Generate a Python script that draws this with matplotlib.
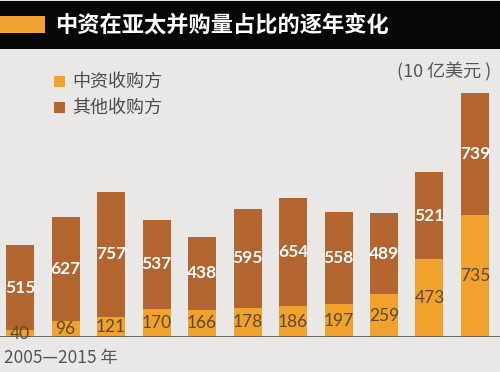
import matplotlib
matplotlib.use("Agg")
import matplotlib.pyplot as plt
from matplotlib.patches import Rectangle

plt.rcParams['font.family'] = ['Noto Sans CJK SC', 'DejaVu Sans']

years = list(range(2005, 2016))
chinese = [40, 96, 121, 170, 166, 178, 186, 197, 259, 473, 735]
others = [515, 627, 757, 537, 438, 595, 654, 558, 489, 521, 739]
title = "中资在亚太并购量占比的逐年变化"
legend_labels = ["中资收购方", "其他收购方"]
unit_label = "(10 亿美元 )"
xlabel = "2005—2015 年"

ORANGE = "#f0a22c"
BROWN = "#b2652e"
BG = "#e9e8e6"

W, H = 500, 372
fig = plt.figure(figsize=(W / 100, H / 100), dpi=100)
fig.patch.set_facecolor(BG)

# title bar
fig.patches.append(Rectangle((0, (H - 49) / H), 1, 48 / H, transform=fig.transFigure,
                             facecolor="#060606", edgecolor="none", zorder=0))
fig.patches.append(Rectangle((0, (H - 33) / H), 45 / W, 17 / H, transform=fig.transFigure,
                             facecolor="#f2a230", edgecolor="none", zorder=1))
fig.text(55 / W, (H - 25) / H, title, color="white", fontsize=16, fontweight="bold",
         va="center", ha="left")

base_px = 337
top_px = 47
ax = fig.add_axes([0, (H - base_px) / H, 1, (base_px - top_px) / H])
ax.set_facecolor("none")
px_per_unit = 0.1655
ax.set_ylim(0, (base_px - top_px) / px_per_unit)
step = 45.5
ax.set_xlim(-20 / step, (W - 20) / step)
ax.axis("off")

x = list(range(len(years)))
w = 28 / step
ax.bar(x, chinese, width=w, color=ORANGE, zorder=2)
ax.bar(x, others, width=w, bottom=chinese, color=BROWN, zorder=2)

for i, (c, o) in enumerate(zip(chinese, others)):
    ax.text(i, c / 2, str(c), ha="center", va="center", fontsize=12.5,
            color="#5b4a2c", family=["Lato", "DejaVu Sans"], zorder=3)
    ax.text(i, c + o / 2, str(o), ha="center", va="center", fontsize=12.5,
            color="white", family=["Lato", "DejaVu Sans"], fontweight="bold", zorder=3)

ax.axhline(0, color="#5e5e5e", lw=1.3, zorder=4)

# legend
for j, (lab, col) in enumerate(zip(legend_labels, [ORANGE, BROWN])):
    yc = 81.5 + j * 26
    fig.patches.append(Rectangle((54 / W, (H - yc - 5.5) / H), 11 / W, 11 / H,
                                 transform=fig.transFigure, facecolor=col, edgecolor="none"))
    fig.text(72 / W, (H - yc) / H, lab, color="#4a4a4a", fontsize=13, va="center", ha="left")

fig.text(491 / W, (H - 72) / H, unit_label, color="#555555", fontsize=13, va="center", ha="right")
fig.text(4 / W, (H - 358) / H, xlabel, color="#555555", fontsize=12.5, va="center", ha="left")

fig.savefig("out.png", dpi=100, facecolor=BG)
